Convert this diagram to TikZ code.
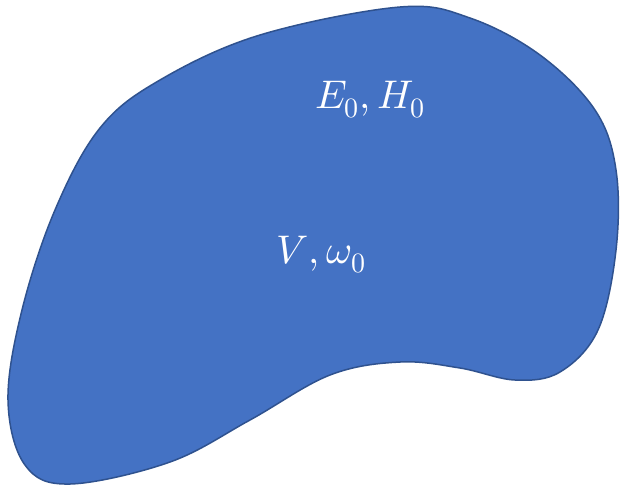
\documentclass[tikz,border=0pt]{standalone}
\usepackage{unicode-math}
\setmathfont{Latin Modern Math}
\definecolor{blobfill}{HTML}{4472C4}
\definecolor{blobline}{HTML}{2F528F}
\tikzset{
  blob/.style={fill=blobfill, draw=blobline, line width=1.5pt, line join=round},
  lbl/.style={text=white, font=\fontsize{40}{48}\selectfont, inner sep=0pt}
}
\begin{document}
\begin{tikzpicture}[x=1pt,y=-1pt]
\useasboundingbox (0,0) rectangle (620,488);
\draw[blob] plot[smooth cycle, tension=0.6] coordinates {
  (400,7) (470,18) (540,55) (595,110) (616,170) (616,250) (598,330)
  (560,372) (515,380) (460,368) (400,362) (330,375) (250,420) (170,462)
  (70,484) (25,465) (8,400) (22,310) (55,210) (100,128) (160,80) (260,35)};
\node[lbl, anchor=base] (eh) at (370,108) {$E_0,H_0$};
\node[lbl, anchor=base] (vw) at (321,263) {$V,\omega_0$};
\end{tikzpicture}
\end{document}
